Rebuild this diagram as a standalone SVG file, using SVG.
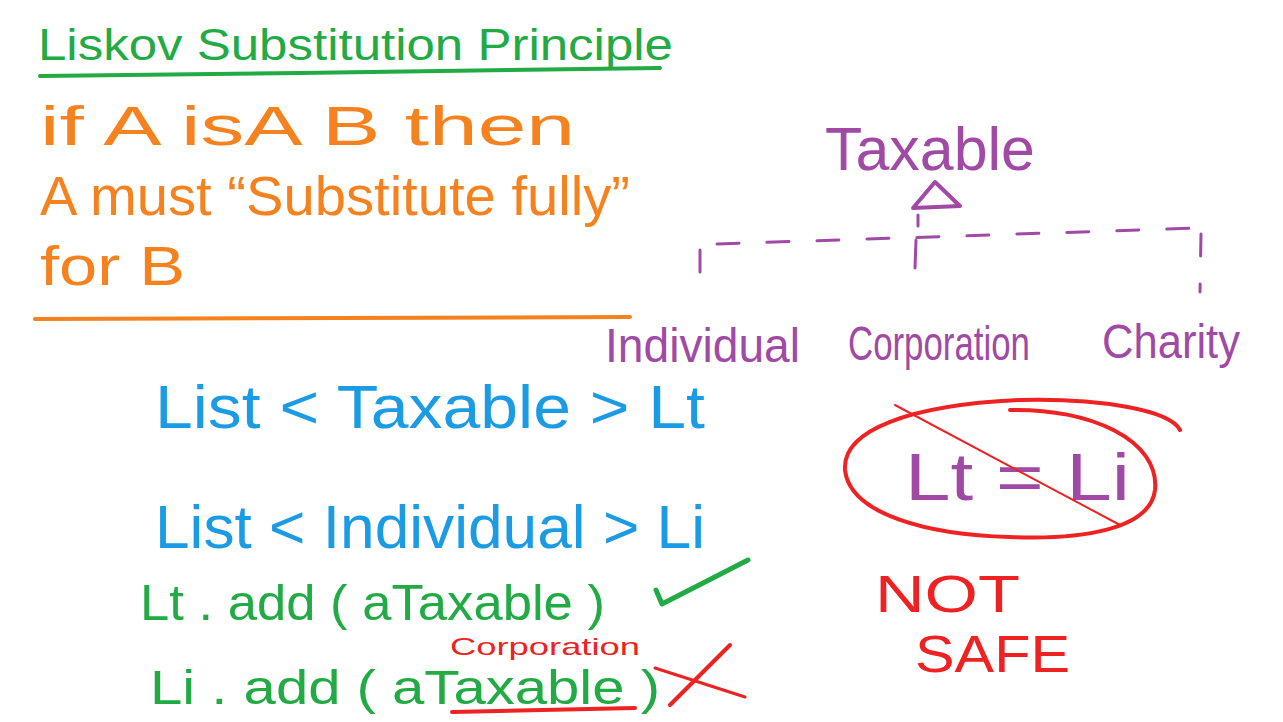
<svg xmlns="http://www.w3.org/2000/svg" width="1283" height="722" viewBox="0 0 1283 722">
<style>
text{font-family:"Liberation Sans","DejaVu Sans",sans-serif;}
.g{fill:#22aa44}.o{fill:#f5821f}.p{fill:#a04aa6}.b{fill:#1b9be3}.r{fill:#ee2222}
.ln{fill:none;stroke-linecap:round;stroke-linejoin:round}
.dash{fill:none;stroke:#a04aa6;stroke-width:3;stroke-dasharray:22 28;stroke-linecap:round}
</style>
<rect width="1283" height="722" fill="#ffffff"/>
<g id="title">
<text class="g" x="38" y="60" font-size="44" textLength="635" lengthAdjust="spacingAndGlyphs">Liskov Substitution Principle</text>
<path class="ln" stroke="#22aa44" stroke-width="4" d="M40 76 L300 73 L660 68"/>
</g>
<g id="definition">
<text class="o" x="40" y="145" font-size="56" textLength="535" lengthAdjust="spacingAndGlyphs">if  A  isA  B  then</text>
<text class="o" x="40" y="215" font-size="56" textLength="590" lengthAdjust="spacingAndGlyphs">A  must “Substitute fully”</text>
<text class="o" x="40" y="285" font-size="56" textLength="145" lengthAdjust="spacingAndGlyphs">for B</text>
<path class="ln" stroke="#f5821f" stroke-width="4" d="M35 319 L630 317"/>
</g>
<g id="taxable">
<text class="p" x="825" y="170" font-size="62" textLength="210" lengthAdjust="spacingAndGlyphs">Taxable</text>
<path class="ln" stroke="#a04aa6" stroke-width="4" d="M935 182 L913 208 L960 206 Z" fill="#ffffff"/>
</g>
<g id="individual">
<text class="p" x="605" y="362" font-size="48" textLength="195" lengthAdjust="spacingAndGlyphs">Individual</text>
</g>
<g id="corporation">
<text class="p" x="848" y="360" font-size="48" textLength="182" lengthAdjust="spacingAndGlyphs">Corporation</text>
</g>
<g id="charity">
<text class="p" x="1102" y="358" font-size="48" textLength="138" lengthAdjust="spacingAndGlyphs">Charity</text>
</g>
<g id="connectors">
<path class="dash" d="M717 244 L1200 228"/>
<path class="dash" stroke-dasharray="14 16" d="M700 250 L700 292"/>
<path class="dash" stroke-dasharray="14 16" d="M1201 234 L1200 292"/>
<path class="ln" stroke="#a04aa6" stroke-width="3" d="M918 215 L918 226 M916 240 L915 268"/>
</g>
<g id="lists">
<text class="b" x="155" y="428" font-size="62" textLength="550" lengthAdjust="spacingAndGlyphs">List &lt; Taxable &gt;  Lt</text>
<text class="b" x="155" y="548" font-size="62" textLength="550" lengthAdjust="spacingAndGlyphs">List &lt; Individual &gt;  Li</text>
</g>
<g id="adds">
<text class="g" x="140" y="620" font-size="50" textLength="465" lengthAdjust="spacingAndGlyphs">Lt . add ( aTaxable )</text>
<text class="g" x="150" y="704" font-size="48" textLength="510" lengthAdjust="spacingAndGlyphs">Li . add ( aTaxable )</text>
<path class="ln" stroke="#22aa44" stroke-width="5" d="M656 590 L662 604 L748 560"/>
<text class="r" x="450" y="655" font-size="24" textLength="190" lengthAdjust="spacingAndGlyphs">Corporation</text>
<path class="ln" stroke="#ee2222" stroke-width="4" d="M452 712 L635 708"/>
<path class="ln" stroke="#ee2222" stroke-width="3" d="M655 668 L745 697"/>
<path class="ln" stroke="#ee2222" stroke-width="4" d="M670 705 L730 645"/>
</g>
<g id="assignment">
<path class="ln" stroke="#ee2222" stroke-width="4" d="M1010 410 C1090 408 1160 440 1155 490 C1150 530 1080 540 1010 537 C930 535 850 515 845 470 C842 430 910 405 1020 400 C1100 398 1170 410 1180 430"/>
<text class="p" x="905" y="500" font-size="66" textLength="225" lengthAdjust="spacingAndGlyphs">Lt = Li</text>
<path class="ln" stroke="#ee2222" stroke-width="2" d="M895 405 L1120 525"/>
<text class="r" x="875" y="612" font-size="52" textLength="145" lengthAdjust="spacingAndGlyphs">NOT</text>
<text class="r" x="915" y="672" font-size="52" textLength="155" lengthAdjust="spacingAndGlyphs">SAFE</text>
</g>
</svg>
